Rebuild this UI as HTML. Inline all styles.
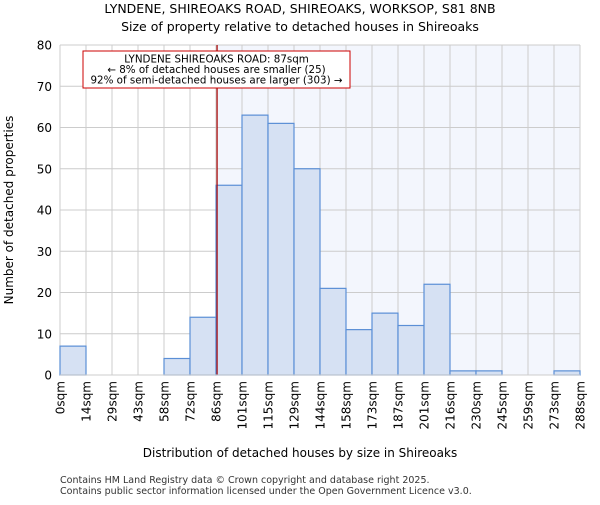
<!DOCTYPE html>
<html><head><meta charset="utf-8"><style>
body{margin:0;background:#fff;font-family:"Liberation Sans","DejaVu Sans",sans-serif;}
svg text{font-family:"DejaVu Sans","Liberation Sans",sans-serif;}
</style></head><body>
<svg id="c" width="600" height="500" xmlns="http://www.w3.org/2000/svg">
<text x="300" y="13" text-anchor="middle" font-size="12.5">LYNDENE, SHIREOAKS ROAD, SHIREOAKS, WORKSOP, S81 8NB</text>
<text x="300" y="31" text-anchor="middle" font-size="12.5">Size of property relative to detached houses in Shireoaks</text>
<g id="plot"></g>
<text x="300" y="457" text-anchor="middle" font-size="12">Distribution of detached houses by size in Shireoaks</text>
<text transform="translate(13,210) rotate(-90)" text-anchor="middle" font-size="12">Number of detached properties</text>
<text x="60" y="483" font-size="9.5" fill="#333">Contains HM Land Registry data © Crown copyright and database right 2025.</text>
<text x="60" y="494" font-size="9.5" fill="#333">Contains public sector information licensed under the Open Government Licence v3.0.</text>
</svg>
<script>
const labels=["0sqm","14sqm","29sqm","43sqm","58sqm","72sqm","86sqm","101sqm","115sqm","129sqm","144sqm","158sqm","173sqm","187sqm","201sqm","216sqm","230sqm","245sqm","259sqm","273sqm","288sqm"];
const counts=[7,0,0,0,4,14,46,63,61,50,21,11,15,12,22,1,1,0,0,1];
const yTicks=[0,10,20,30,40,50,60,70,80];
const binWidth=14.4;
const marker=87;
const L=60,R=580,T=45,B=375,ymax=80;
const n=counts.length;
const x=v=>L+(R-L)*v/(binWidth*n);
const xi=i=>L+(R-L)*i/n;
const y=v=>B-(B-T)*v/ymax;
const NS="http://www.w3.org/2000/svg";
const g=document.getElementById('plot');
function mk(t,a){const e=document.createElementNS(NS,t);for(const k in a)e.setAttribute(k,a[k]);g.appendChild(e);return e;}
let bg=mk('rect',{x:x(marker),y:T,width:R-x(marker),height:B-T,fill:'#f3f6fd'});


for(const t of yTicks){
 let l=mk('line',{x1:L,x2:R,y1:y(t),y2:y(t),stroke:'#ccc','stroke-width':1});
 
 
 let tx=mk('text',{x:L-8,y:y(t)+4.5,'text-anchor':'end','font-size':12});
 tx.textContent=t;
 
 
}
for(let i=0;i<=n;i++){
 let l=mk('line',{x1:xi(i),x2:xi(i),y1:T,y2:B,stroke:'#ccc','stroke-width':1});
 
 
 let tx=mk('text',{transform:`translate(${xi(i)+4.5},${B+6}) rotate(-90)`,'text-anchor':'end','font-size':12});
 tx.textContent=labels[i];
 
 
}
counts.forEach((c,i)=>{
 if(c<=0)return;
 let r=mk('rect',{x:xi(i),y:y(c),width:xi(i+1)-xi(i),height:B-y(c),fill:'#d6e1f3',stroke:'#5b8fd6','stroke-width':1.2});
 
 
});
let ml=mk('line',{x1:x(marker),x2:x(marker),y1:T,y2:B,stroke:'#a00','stroke-width':1.2});


let box=mk('rect',{x:83,y:51,width:267,height:37,fill:'#fff',stroke:'#c00','stroke-width':1});


const ann=["LYNDENE SHIREOAKS ROAD: 87sqm","← 8% of detached houses are smaller (25)","92% of semi-detached houses are larger (303) →"];
ann.forEach((s,i)=>{let t=mk('text',{x:216.5,y:62.5+i*10.5,'text-anchor':'middle','font-size':10.3});t.textContent=s;
 
 });
let ax=mk('line',{x1:L,x2:R,y1:B,y2:B,stroke:'#ccc'});


</script>
</body></html>
